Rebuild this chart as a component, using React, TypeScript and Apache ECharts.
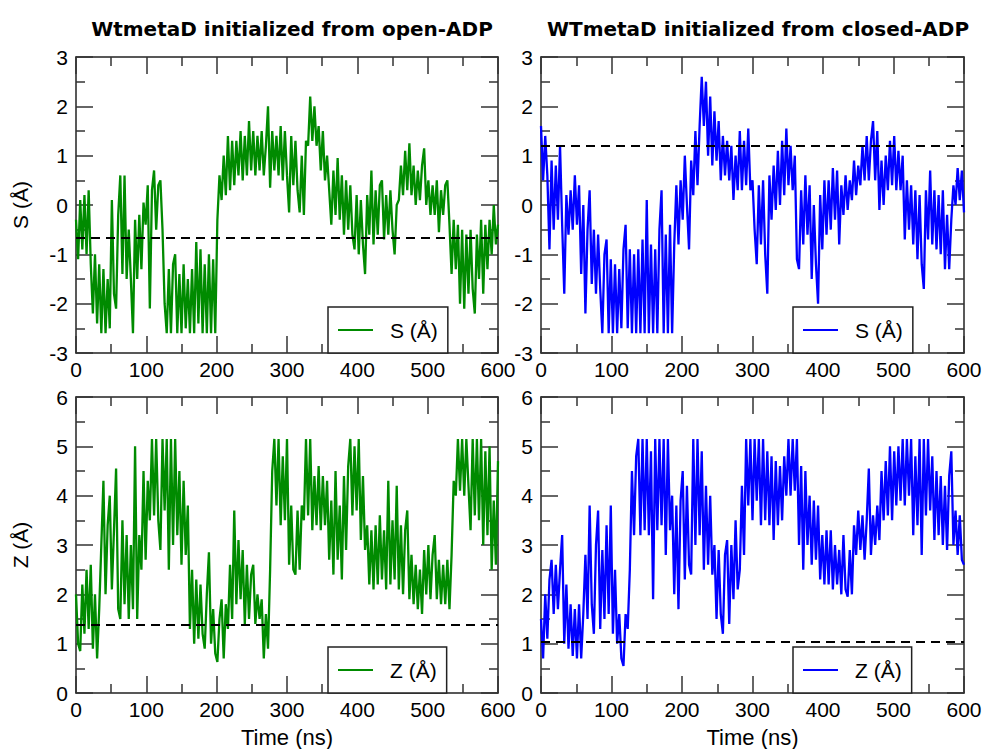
import React, { useEffect, useRef } from "react";
import * as echarts from "echarts";

const TIME = [
  0, 3, 6, 9, 12, 15, 18, 21, 24, 27,
  30, 33, 36, 39, 42, 45, 48, 51, 54, 57,
  60, 63, 66, 69, 72, 75, 78, 81, 84, 87,
  90, 93, 96, 99, 102, 105, 108, 111, 114, 117,
  120, 123, 126, 129, 132, 135, 138, 141, 144, 147,
  150, 153, 156, 159, 162, 165, 168, 171, 174, 177,
  180, 183, 186, 189, 192, 195, 198, 201, 204, 207,
  210, 213, 216, 219, 222, 225, 228, 231, 234, 237,
  240, 243, 246, 249, 252, 255, 258, 261, 264, 267,
  270, 273, 276, 279, 282, 285, 288, 291, 294, 297,
  300, 303, 306, 309, 312, 315, 318, 321, 324, 327,
  330, 333, 336, 339, 342, 345, 348, 351, 354, 357,
  360, 363, 366, 369, 372, 375, 378, 381, 384, 387,
  390, 393, 396, 399, 402, 405, 408, 411, 414, 417,
  420, 423, 426, 429, 432, 435, 438, 441, 444, 447,
  450, 453, 456, 459, 462, 465, 468, 471, 474, 477,
  480, 483, 486, 489, 492, 495, 498, 501, 504, 507,
  510, 513, 516, 519, 522, 525, 528, 531, 534, 537,
  540, 543, 546, 549, 552, 555, 558, 561, 564, 567,
  570, 573, 576, 579, 582, 585, 588, 591, 594, 597,
  600,
];

const S_OPEN = [
  -0.3, -1.1, 0.1, -0.9, 0.2, -1.0, 0.3, -1.2, -2.2, -1.0,
  -2.4, -1.2, -2.6, -1.3, -2.6, -1.5, -2.5, 0.1, -1.8, -2.1,
  -0.2, 0.6, -1.4, 0.6, -1.5, -0.5, -1.5, -2.6, -0.3, -1.5,
  -0.2, -1.3, 0.05, -0.4, 0.4, -2.1, 0.3, 0.7, -0.5, 0.4,
  0.5, -0.5, -2.0, -2.6, -1.3, -2.6, -1.2, -1.0, -2.6, -1.4,
  -2.6, -1.2, -2.5, -1.5, -2.6, -1.3, -2.6, -0.75, -2.4, -0.9,
  -2.6, -1.2, -2.6, -1.0, -2.6, -1.1, -2.6, -0.3, 0.6, 0.1,
  1.0, 0.2, 1.4, 0.3, 1.3, 0.4, 1.3, 0.6, 1.5, 0.5,
  1.4, 0.6, 1.7, 0.7, 1.5, 0.6, 1.4, 0.7, 1.5, 0.6,
  1.2, 2.0, 0.35, 1.5, 0.7, 1.4, 0.6, 1.6, 0.5, 1.5,
  0.6, -0.15, 1.4, 0.4, 1.3, 0.3, -0.15, 1.0, -0.2, 1.3,
  1.2, 2.2, 1.3, 2.0, 1.2, 1.6, 0.7, 1.5, 0.5, 1.0,
  0.3, -0.4, 0.7, -0.2, 0.95, -0.3, 0.6, -0.6, 0.5, -0.5,
  0.4, -0.6, -0.9, 0.2, -1.0, 0.1, -0.8, -1.4, 0.2, -0.6,
  0.7, -0.8, 0.3, -0.6, 0.4, 0.5, -0.7, 0.2, -0.6, 0.3,
  -0.5, -1.0, 0.0, 0.1, 0.8, 0.2, 1.1, 0.3, 1.25, 0.2,
  0.8, 0.0, 0.7, 0.1, 0.8, 1.15, 0.0, 0.5, -0.2, 0.4,
  -0.2, 0.5, -0.55, 0.3, -0.2, 0.4, 0.5, -0.4, -1.4, -0.3,
  -1.3, -0.4, -2.0, -0.5, -2.1, -0.6, -1.8, -0.5, -1.7, -2.2,
  -0.6, -1.5, -0.3, -1.8, -0.4, -1.3, -0.3, -1.0, 0.0, -0.8,
  -0.4,
];

const S_CLOSED = [
  1.6, 0.5, 1.4, 0.6, -0.9, 0.9, -0.5, 0.8, -0.3, 1.2,
  -0.4, -1.8, 0.2, -0.6, 0.3, -0.5, 0.6, -0.4, 0.4, -1.4,
  0.0, -2.2, -0.5, 0.3, -1.6, -0.5, -1.8, -0.6, -1.7, -2.6,
  -1.0, -0.7, -2.6, -1.1, -2.6, -1.2, -2.6, -1.3, -2.5, -0.9,
  -0.4, -2.5, -0.9, -2.6, -1.0, -2.6, -0.9, -2.6, -0.7, -2.6,
  0.1, -2.6, -0.8, -2.6, -0.9, -2.6, -0.5, 0.3, -2.6, -0.6,
  -2.6, -0.4, -2.6, -0.8, 0.4, -0.8, 0.5, -0.3, 1.0, 0.0,
  -0.9, 0.9, 0.2, 1.5, 0.4, 1.6, 2.6, 1.6, 2.5, 1.0,
  2.2, 0.8, 1.9, 0.9, 1.7, 0.5, 1.4, 0.6, 1.3, 0.5,
  1.2, 0.1, 1.0, 0.3, 1.5, 0.3, 1.3, 0.4, 1.55, 0.3,
  0.5, -0.5, -1.2, 0.4, -0.8, 0.5, -1.0, -1.8, 0.6, -0.3,
  0.8, -0.1, 1.1, 0.0, 1.3, 0.2, 1.55, 0.4, 1.2, 0.3,
  1.0, -1.1, -1.3, 0.3, -0.8, 0.6, -0.6, 0.4, -1.5, 0.0,
  -1.2, -2.0, 0.2, -0.9, 0.5, -0.6, 0.5, -0.5, 0.75, -0.3,
  0.7, -0.8, 0.4, -0.2, 0.6, -0.1, 0.5, 0.1, 0.9, 0.2,
  0.8, 0.4, 1.2, 0.5, 1.4, 0.5, 1.3, 1.7, 0.5, 1.5,
  -0.1, 0.9, 0.0, 1.0, 0.3, 1.3, 0.4, 1.4, 0.3, 1.1,
  0.3, 1.0, -0.7, 0.5, -0.5, 0.4, -0.8, 0.3, -1.1, 0.2,
  -1.2, -1.7, 0.3, -0.7, 0.7, -0.8, 0.3, -0.9, 0.2, -1.0,
  0.3, -1.3, -0.2, -1.3, -0.3, 0.4, 0.0, 0.75, 0.1, 0.7,
  -0.15,
];

const Z_OPEN = [
  2.0, 1.0, 0.85, 2.2, 1.2, 2.5, 1.3, 2.6, 0.9, 2.0,
  0.7, 1.7, 3.0, 4.3, 2.0, 3.4, 4.0, 2.1, 3.3, 4.55,
  1.7, 1.5, 3.5, 1.8, 3.2, 1.5, 3.0, 1.7, 5.0, 1.5,
  3.2, 2.5, 4.5, 2.7, 4.3, 3.5, 5.15, 3.6, 5.15, 3.5,
  2.9, 5.15, 3.7, 5.15, 2.5, 5.15, 3.0, 5.15, 3.2, 4.5,
  2.6, 4.3, 2.8, 3.8, 1.3, 2.5, 1.0, 2.3, 1.1, 2.2,
  1.2, 0.9, 2.0, 2.85, 1.0, 1.7, 0.8, 0.63, 1.5, 1.9,
  0.7, 1.8, 1.3, 2.6, 1.5, 3.7, 1.8, 3.1, 1.9, 2.9,
  1.4, 2.6, 1.5, 2.4, 2.6, 1.4, 2.0, 1.5, 1.9, 0.7,
  1.6, 0.9, 2.5, 4.5, 5.15, 3.8, 5.15, 3.4, 4.8, 3.5,
  5.15, 2.6, 3.8, 2.5, 2.4, 3.7, 2.5, 3.8, 3.5, 5.15,
  3.6, 5.15, 3.3, 4.4, 3.4, 4.6, 3.3, 4.4, 3.4, 4.3,
  2.7, 3.9, 2.4, 4.5, 2.7, 3.8, 2.3, 4.4, 2.9, 4.6,
  5.15, 3.6, 5.0, 3.7, 5.15, 3.1, 4.4, 2.9, 3.4, 2.2,
  3.3, 2.1, 3.4, 2.2, 3.6, 2.3, 3.3, 2.1, 4.3, 2.2,
  3.5, 2.3, 4.2, 2.1, 3.4, 2.0, 3.3, 3.7, 1.9, 2.8,
  1.8, 2.6, 1.7, 2.5, 1.6, 2.9, 2.0, 3.0, 1.9, 2.8,
  3.2, 1.9, 2.7, 1.8, 2.6, 1.8, 2.7, 1.7, 2.8, 4.3,
  4.0, 5.15, 4.1, 5.15, 4.0, 5.15, 4.2, 3.3, 5.15, 3.6,
  5.15, 3.5, 5.15, 3.0, 4.9, 3.2, 5.0, 2.5, 3.9, 2.6,
  4.7,
];

const Z_CLOSED = [
  1.5, 0.7, 2.0, 1.1, 2.3, 2.7, 1.6, 2.6, 1.7, 2.5,
  3.2, 1.0, 2.2, 0.9, 1.8, 0.75, 1.7, 0.7, 1.8, 0.7,
  1.6, 2.8, 1.5, 3.8, 1.8, 1.2, 3.0, 3.7, 1.3, 2.9,
  1.5, 3.4, 1.6, 3.8, 1.2, 2.5, 1.0, 1.6, 0.7, 0.55,
  1.6, 1.3, 2.5, 4.5, 3.2, 4.8, 5.15, 3.2, 5.15, 3.3,
  5.15, 3.2, 4.9, 1.9, 5.15, 3.3, 5.15, 3.4, 5.15, 2.8,
  5.15, 3.3, 4.0, 2.0, 3.8, 1.7, 3.9, 4.5, 2.3, 4.2,
  2.6, 2.4, 5.15, 3.0, 5.15, 3.2, 4.9, 2.5, 4.2, 2.6,
  4.0, 2.4, 3.0, 1.5, 2.9, 1.6, 1.2, 2.8, 3.1, 1.4,
  3.0, 1.9, 3.5, 2.1, 2.5, 4.2, 2.8, 5.15, 3.8, 5.15,
  3.5, 5.15, 3.9, 5.15, 3.4, 5.15, 3.5, 4.9, 3.4, 4.8,
  3.1, 4.7, 3.4, 4.6, 3.5, 4.8, 4.0, 5.15, 4.0, 5.15,
  4.1, 5.15, 3.0, 4.6, 2.5, 4.5, 3.0, 4.0, 2.6, 3.9,
  2.7, 3.8, 2.3, 3.2, 2.2, 3.3, 2.2, 3.3, 2.1, 3.0,
  2.2, 2.9, 2.0, 3.2, 2.1, 1.95, 2.9, 2.0, 3.4, 2.8,
  3.7, 2.9, 3.6, 2.7, 3.5, 4.55, 2.8, 3.6, 3.0, 3.8,
  3.1, 4.5, 3.5, 4.7, 3.6, 5.0, 3.5, 4.9, 3.8, 5.0,
  3.9, 5.15, 3.8, 5.15, 4.0, 5.15, 3.2, 4.8, 3.4, 5.15,
  2.8, 5.15, 3.6, 5.15, 3.7, 4.8, 3.1, 4.5, 3.2, 4.4,
  3.0, 4.2, 2.9, 4.4, 4.9, 3.0, 3.7, 2.8, 3.6, 2.7,
  2.6,
];

const REF_LINES = [-0.67, 1.2, 1.38, 1.03];
const TITLES = ["WtmetaD initialized from open-ADP", "WTmetaD initialized from closed-ADP"];
const LEGEND_LABELS = ["S (Å)", "S (Å)", "Z (Å)", "Z (Å)"];
const SERIES_NAMES = ["S open", "S closed", "Z open", "Z closed"];
const GREEN = "#008b00";
const BLUE = "#0000ff";

const FONT = "'Liberation Sans', Arial, Helvetica, sans-serif";
const TITLE_FONT = "'DejaVu Sans', 'Liberation Sans', sans-serif";

export default function App() {
  const ref = useRef<HTMLDivElement>(null);
  useEffect(() => {
    if (!ref.current) return;
    const chart = echarts.init(ref.current, undefined, { renderer: "svg" });

    const grids = [
      { left: 76, top: 57, width: 422, height: 296 },
      { left: 541, top: 57, width: 423, height: 296 },
      { left: 76, top: 397, width: 422, height: 296 },
      { left: 541, top: 397, width: 423, height: 296 },
    ];
    const datasets = [S_OPEN, S_CLOSED, Z_OPEN, Z_CLOSED];
    const colors = [GREEN, BLUE, GREEN, BLUE];

    const axisLine = { show: true, onZero: false, lineStyle: { color: "#222", width: 1.5 } };
    const tickStyle = { color: "#333", width: 1.5 };

    const xAxes: any[] = [];
    const yAxes: any[] = [];
    grids.forEach((_, i) => {
      const bottomRow = i >= 2;
      xAxes.push({
        type: "value",
        gridIndex: i,
        min: 0,
        max: 600,
        interval: 100,
        position: "bottom",
        name: bottomRow ? "Time (ns)" : "",
        nameLocation: "middle",
        nameGap: 33,
        nameTextStyle: { fontSize: 22, color: "#000", fontFamily: FONT },
        axisLine,
        axisTick: { show: true, inside: true, length: 17, lineStyle: tickStyle },
        minorTick: { show: true, splitNumber: 2, length: 9, lineStyle: tickStyle },
        axisLabel: { show: true, fontSize: 21, color: "#000", fontFamily: FONT, margin: 6, showMinLabel: true, showMaxLabel: true },
        splitLine: { show: false },
      });
      xAxes.push({
        type: "value",
        gridIndex: i,
        min: 0,
        max: 600,
        interval: 100,
        position: "top",
        axisLine,
        axisTick: { show: true, inside: true, length: 17, lineStyle: tickStyle },
        minorTick: { show: true, splitNumber: 2, length: 9, lineStyle: tickStyle },
        axisLabel: { show: false },
        splitLine: { show: false },
      });
      const top = i < 2;
      const leftCol = i % 2 === 0;
      yAxes.push({
        type: "value",
        gridIndex: i,
        min: top ? -3 : 0,
        max: top ? 3 : 6,
        interval: 1,
        position: "left",
        name: leftCol ? (top ? "S (Å)" : "Z (Å)") : "",
        nameLocation: "middle",
        nameGap: 45,
        nameRotate: 90,
        nameTextStyle: { fontSize: 21, color: "#000", fontFamily: FONT },
        axisLine,
        axisTick: { show: true, inside: true, length: 17, lineStyle: tickStyle },
        minorTick: { show: true, splitNumber: 2, length: 9, lineStyle: tickStyle },
        axisLabel: { show: true, fontSize: 21, color: "#000", fontFamily: FONT, margin: 8, showMinLabel: true, showMaxLabel: true },
        splitLine: { show: false },
      });
      yAxes.push({
        type: "value",
        gridIndex: i,
        min: top ? -3 : 0,
        max: top ? 3 : 6,
        interval: 1,
        position: "right",
        axisLine,
        axisTick: { show: true, inside: true, length: 17, lineStyle: tickStyle },
        minorTick: { show: true, splitNumber: 2, length: 9, lineStyle: tickStyle },
        axisLabel: { show: false },
        splitLine: { show: false },
      });
    });

    const series = datasets.map((vals, i) => ({
      name: SERIES_NAMES[i],
      type: "line",
      xAxisIndex: i * 2,
      yAxisIndex: i * 2,
      data: TIME.map((t, k) => [t, vals[k]]),
      showSymbol: false,
      symbol: "none",
      lineStyle: { color: colors[i], width: 2.3 },
      itemStyle: { color: colors[i] },
      z: 2,
      markLine: {
        silent: true,
        symbol: "none",
        label: { show: false },
        lineStyle: { color: "#000", width: 2, type: [9, 6] },
        data: [{ yAxis: REF_LINES[i] }],
        z: 3,
      },
    }));

    const legends = grids.map((g, i) => ({
      data: [SERIES_NAMES[i]],
      left: g.left + 252,
      top: g.top + 250,
      orient: "vertical",
      backgroundColor: "#fff",
      borderColor: "#222",
      borderWidth: 1.5,
      borderRadius: 0,
      padding: [11, 10, 11, 10],
      icon: "rect",
      itemWidth: 35,
      itemHeight: 2,
      selectedMode: false,
      formatter: () => LEGEND_LABELS[i],
      textStyle: { fontSize: 21, color: "#000", fontFamily: FONT, padding: [0, 0, 0, 12], lineHeight: 24 },
    }));

    chart.setOption({
      animation: false,
      backgroundColor: "#fff",
      title: [
        {
          text: TITLES[0],
          left: 287,
          top: 14,
          textAlign: "center",
          textStyle: { fontSize: 20, fontWeight: "bold", color: "#000", fontFamily: TITLE_FONT },
        },
        {
          text: TITLES[1],
          left: 753,
          top: 14,
          textAlign: "center",
          textStyle: { fontSize: 20, fontWeight: "bold", color: "#000", fontFamily: TITLE_FONT },
        },
      ],
      grid: grids,
      xAxis: xAxes,
      yAxis: yAxes,
      legend: legends,
      series,
    });
    return () => chart.dispose();
  }, []);
  return (
    <div
      ref={ref}
      style={{ position: "fixed", left: 0, top: 0, width: 987, height: 749, background: "#fff" }}
    />
  );
}
